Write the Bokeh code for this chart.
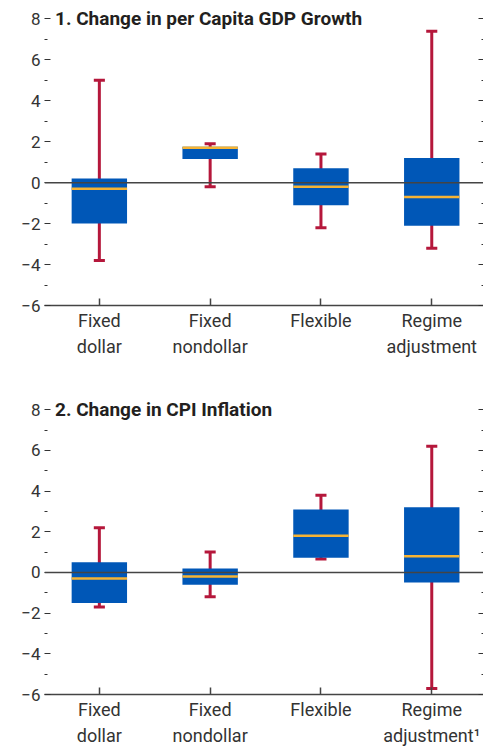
from bokeh.plotting import figure
from bokeh.models import (Range1d, FixedTicker, LinearAxis, Span, Label, ColumnDataSource,
                          CustomJSTickFormatter)
from bokeh.layouts import column
from bokeh.embed import file_html
from bokeh.resources import INLINE

# ---- data ----
categories = ["Fixed dollar", "Fixed nondollar", "Flexible", "Regime adjustment"]
cat_labels_1 = ["Fixed\ndollar", "Fixed\nnondollar", "Flexible", "Regime\nadjustment"]
cat_labels_2 = ["Fixed\ndollar", "Fixed\nnondollar", "Flexible", "Regime\nadjustment\u00b9"]

title_1 = "1. Change in per Capita GDP Growth"
title_2 = "2. Change in CPI Inflation"

gdp_low = [-3.8, -0.2, -2.2, -3.2]
gdp_q1 = [-2.0, 1.15, -1.1, -2.1]
gdp_med = [-0.3, 1.7, -0.2, -0.7]
gdp_q3 = [0.2, 1.75, 0.7, 1.2]
gdp_high = [5.0, 1.9, 1.4, 7.4]

cpi_low = [-1.7, -1.2, 0.66, -5.7]
cpi_q1 = [-1.5, -0.6, 0.72, -0.5]
cpi_med = [-0.3, -0.2, 1.8, 0.8]
cpi_q3 = [0.5, 0.2, 3.1, 3.2]
cpi_high = [2.2, 1.0, 3.8, 6.2]

y_ticks = [-6, -4, -2, 0, 2, 4, 6, 8]
y_tick_labels = ["\u22126", "\u22124", "\u22122", "0", "2", "4", "6", "8"]
y_minor = [-5, -3, -1, 1, 3, 5, 7]

# ---- style ----
BLUE = "#0057b7"
RED = "#b5173b"
ORANGE = "#f5b335"
TXT = "#333333"
AX = "#444444"
FONT = "Roboto"
BOX_W = 0.5
CAP_W = 0.1


def make_panel(title, low, q1, med, q3, high, labels, left_border, top_border, bottom_border,
               height, y_top):
    xs = [i + 1 for i in range(len(categories))]
    src = ColumnDataSource(dict(
        x=xs, low=low, q1=q1, med=med, q3=q3, high=high,
        cl=[x - CAP_W / 2 for x in xs], cr=[x + CAP_W / 2 for x in xs],
        bl=[x - BOX_W / 2 for x in xs], br=[x + BOX_W / 2 for x in xs],
    ))
    p = figure(width=483, height=height, output_backend="svg", toolbar_location=None,
               x_range=Range1d(0.505, 4.467), y_range=Range1d(-6, y_top),
               min_border_left=left_border, min_border_right=0,
               min_border_top=top_border, min_border_bottom=bottom_border,
               y_axis_location=None, x_axis_location=None)
    p.outline_line_color = None
    p.xgrid.visible = False
    p.ygrid.visible = False
    p.background_fill_color = "white"
    p.border_fill_color = "white"

    # whiskers
    p.segment(x0="x", y0="low", x1="x", y1="high", source=src, line_color=RED, line_width=3)
    p.segment(x0="cl", y0="high", x1="cr", y1="high", source=src, line_color=RED, line_width=3)
    p.segment(x0="cl", y0="low", x1="cr", y1="low", source=src, line_color=RED, line_width=3)
    # boxes
    p.vbar(x="x", width=BOX_W, bottom="q1", top="q3", source=src, fill_color=BLUE, line_color=None)
    # medians
    p.segment(x0="bl", y0="med", x1="br", y1="med", source=src, line_color=ORANGE, line_width=2.5)

    p.add_layout(Span(location=0, dimension="width", line_color=AX, line_width=1.5))

    # left axis
    ya = LinearAxis(ticker=FixedTicker(ticks=y_ticks, minor_ticks=y_minor))
    ya.major_label_overrides = {t: l for t, l in zip(y_ticks, y_tick_labels)}
    ya.axis_line_color = None
    ya.major_tick_in = 6
    ya.major_tick_out = 0
    ya.minor_tick_in = 3
    ya.minor_tick_out = 0
    ya.major_tick_line_color = TXT
    ya.minor_tick_line_color = TXT
    ya.major_label_standoff = 4
    ya.major_label_text_font = FONT
    ya.major_label_text_font_size = "17px"
    ya.major_label_text_color = TXT
    p.add_layout(ya, "left")

    # right axis (ticks only)
    ra = LinearAxis(ticker=FixedTicker(ticks=y_ticks, minor_ticks=y_minor),
                    formatter=CustomJSTickFormatter(code="return '';"))
    ra.axis_line_color = None
    ra.major_tick_in = 5
    ra.major_tick_out = 0
    ra.minor_tick_in = 2
    ra.minor_tick_out = 0
    ra.major_tick_line_color = TXT
    ra.minor_tick_line_color = TXT
    ra.major_label_standoff = 0
    p.add_layout(ra, "right")

    # bottom axis
    xa = LinearAxis(ticker=FixedTicker(ticks=xs, minor_ticks=[]))
    xa.major_label_overrides = {x: l for x, l in zip(xs, labels)}
    xa.axis_line_color = AX
    xa.axis_line_width = 1.5
    xa.major_tick_in = 7
    xa.major_tick_out = 0
    xa.major_tick_line_color = AX
    xa.major_tick_line_width = 1.5
    xa.major_label_standoff = 4
    xa.major_label_text_font = FONT
    xa.major_label_text_font_size = "18px"
    xa.major_label_text_color = TXT
    xa.major_label_text_line_height = 1.25
    p.add_layout(xa, "below")

    p.add_layout(Label(x=0.6, y=8, text=title, text_font=FONT, text_font_style="bold",
                       text_font_size="19px", text_color="#231f20", text_baseline="middle"))
    return p


p1 = make_panel(title_1, gdp_low, gdp_q1, gdp_med, gdp_q3, gdp_high, cat_labels_1,
                34, 2, 92, 397, 8.8)
p2 = make_panel(title_2, cpi_low, cpi_q1, cpi_med, cpi_q3, cpi_high, cat_labels_2,
                44, 0, 52, 351, 8.6)

layout = column(p1, p2, spacing=0)
open("out.html", "w").write(file_html(layout, INLINE))
